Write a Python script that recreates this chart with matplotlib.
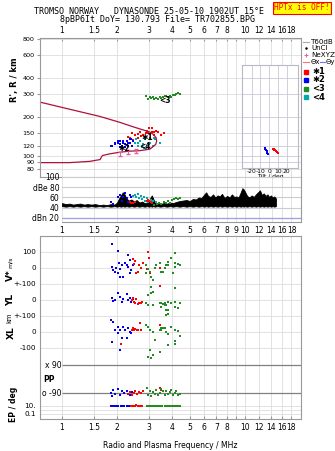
import numpy as np
import matplotlib
matplotlib.use("Agg")
import matplotlib.pyplot as plt
from matplotlib.ticker import FixedLocator, NullLocator, FixedFormatter
from matplotlib.transforms import blended_transform_factory

plt.rcParams["font.family"] = ["DejaVu Sans"]
plt.rcParams["font.size"] = 5.5

W, H = 335, 451

# ---- axes ticks ----
freq_ticks = [1, 1.5, 2, 3, 4, 5, 6, 7, 8, 9, 10, 12, 14, 16, 18]
freq_labels = ["1", "1.5", "2", "3", "4", "5", "6", "7", "8", "", "10", "12", "14", "16", "18"]
freq_labels_mid = ["1", "1.5", "2", "3", "4", "5", "6", "7", "8", "9", "10", "12", "14", "16", "18"]
range_ticks = [80, 90, 100, 120, 150, 200, 300, 400, 600, 800]
db_ticks = [20, 40, 60, 80, 100]
db_labels = ["dBn 20", "40", "60", "dBe 80", "100"]
tilt_ticks = [-20, -10, 0, 10, 20]

# ---- virtual height profile (crimson curve) ----
prof_f = [0.76, 1.0, 1.3, 1.61, 2.07, 2.45, 2.78, 3.03, 3.18, 3.28, 3.30, 3.26, 3.15,
          3.03, 2.67, 2.35, 2.07, 1.83, 1.67, 1.65, 1.62, 1.42, 1.1, 0.76]
prof_R = [260, 237, 217, 202, 182, 168, 159, 153, 146, 138, 130, 123, 118,
          113, 110, 109, 107, 104, 101, 99, 94, 91, 89, 89]

# NeXYZ points
ne_f = [2.07, 2.30, 2.55]
ne_R = [104, 107, 110]

# ---- echoes: range panel ----
f1 = [2.29, 2.35, 2.41, 2.45, 2.51, 2.60, 2.62, 2.67, 2.70, 2.77, 2.84, 2.87, 2.91,
      2.95, 2.99, 3.03, 3.03, 3.10, 3.12, 3.18, 3.20, 3.26, 3.35, 3.47, 3.60]
R1 = [141, 137, 151, 134, 146, 149, 138, 154, 143, 146, 141, 151, 157,
      150, 163, 149, 138, 154, 163, 146, 152, 157, 154, 146, 150]
f2 = [1.85, 1.87, 1.95, 1.95, 2.02, 2.03, 2.07, 2.07, 2.09, 2.12, 2.15, 2.15,
      2.21, 2.21, 2.26, 2.26, 2.29, 2.29, 2.35, 2.35, 2.40, 2.41, 2.44]
R2 = [120, 120, 127, 124, 131, 127, 124, 131, 118, 120, 131, 127,
      117, 124, 122, 131, 127, 120, 136, 127, 136, 120, 131]
f3 = [2.90, 2.95, 3.03, 3.09, 3.14, 3.20, 3.29, 3.35, 3.43, 3.50, 3.57, 3.65,
      3.73, 3.79, 3.89, 3.97, 4.04, 4.14, 4.23, 4.30, 4.42]
R3 = [292, 276, 287, 280, 283, 277, 280, 274, 283, 278, 287, 290,
      292, 285, 292, 283, 296, 296, 300, 303, 300]
f4 = [2.51, 2.56, 2.60, 2.67, 2.73, 2.77, 2.84, 2.90, 2.95, 3.03, 3.14, 3.18,
      3.22, 3.43, 2.62, 2.80, 2.98]
R4 = [127, 136, 120, 131, 118, 124, 136, 114, 120, 127, 120, 138,
      136, 127, 127, 116, 124]

# cluster labels (freq, range)
lab_text = ["\u27311", "\u27312", "<3", "<4"]
lab_f = [2.95, 2.20, 3.65, 2.85]
lab_R = [140, 115, 270, 119]

# tilt inset
tilt_b = [-5, -4.5, -3.5, -3, -2, -1.5]
tiltR_b = [116, 113, 112, 109, 106, 104]
tilt_r = [4, 5, 6, 7, 8, 9, 10]
tiltR_r = [114, 113, 112, 111, 109, 108, 106]

# ---- amplitude panel ----
noise_f = [1.00, 1.05, 1.10, 1.15, 1.20, 1.26, 1.32, 1.38, 1.45, 1.52, 1.60, 1.68, 1.76,
           1.85, 1.94, 2.00, 2.05, 2.10, 2.15, 2.20, 2.25, 2.32, 2.40, 2.48, 2.56, 2.65,
           2.74, 2.83, 2.92, 3.00, 3.05, 3.10, 3.15, 3.22, 3.32, 3.45, 3.60, 3.75, 3.90,
           4.05, 4.20, 4.40, 4.60, 4.80, 5.00, 5.20, 5.40, 5.60, 5.80, 6.00, 6.15, 6.30,
           6.50, 6.70, 6.90, 7.10, 7.30, 7.50, 7.75, 8.00, 8.25, 8.50, 8.75, 9.00, 9.25,
           9.50, 9.70, 9.85, 10.0, 10.3, 10.6, 10.9, 11.2, 11.5, 11.8, 12.1, 12.4, 12.7,
           13.0, 13.3, 13.6, 13.9, 14.2, 14.5, 14.8]
noise_hi = [49, 47, 48, 46, 47, 48, 46, 47, 46, 47, 45, 46, 45,
            47, 46, 50, 58, 64, 70, 66, 58, 54, 56, 52, 55, 50,
            52, 49, 50, 54, 60, 64, 58, 50, 48, 47, 49, 48, 50,
            49, 51, 53, 54, 55, 53, 57, 56, 60, 59, 66, 70, 63,
            61, 66, 60, 64, 62, 67, 59, 63, 60, 66, 61, 62, 60,
            70, 78, 76, 72, 63, 60, 64, 61, 66, 70, 74, 65, 68,
            63, 66, 61, 64, 60, 62, 58]
noise_lo = [43, 42, 43, 42, 43, 42, 43, 42, 43, 42, 43, 42, 43,
            42, 43, 42, 43, 42, 43, 42, 43, 42, 43, 42, 43, 42,
            43, 42, 43, 42, 43, 42, 43, 42, 43, 42, 43, 42, 43,
            42, 43, 42, 43, 42, 43, 42, 43, 42, 43, 42, 43, 42,
            43, 42, 43, 42, 43, 42, 43, 42, 43, 42, 43, 42, 43,
            42, 43, 42, 43, 42, 43, 42, 43, 42, 43, 42, 43, 42,
            43, 42, 43, 42, 43, 42, 43]

fdb1 = [2.35, 2.40, 2.45, 2.50, 2.90, 2.95, 3.00, 3.05, 3.10]
db1 = [52, 50, 49, 51, 54, 55, 53, 51, 50]
fdb2 = [1.85, 1.90, 2.02, 2.07, 2.12, 2.15, 2.21, 2.26, 2.29, 2.35, 2.40, 2.44]
db2 = [51, 48, 61, 64, 54, 60, 68, 58, 51, 64, 61, 62]
fdb3 = [3.20, 3.30, 3.40, 3.50, 3.60, 3.70, 3.80, 3.90, 4.00, 4.10, 4.20, 4.30, 4.40]
db3 = [46, 48, 50, 47, 52, 49, 53, 50, 55, 56, 58, 57, 58]
fdb4 = [2.45, 2.50, 2.55, 2.60, 2.65, 2.70, 2.75, 2.80, 2.85, 2.90, 2.95, 3.05, 3.15, 3.25]
db4 = [62, 64, 60, 66, 58, 62, 56, 60, 54, 58, 52, 55, 53, 51]

# ---- lower panel: Doppler V*, YL, XL, PP, EP ----
fv1 = [2.44, 2.47, 2.55, 2.60, 2.65, 2.70, 2.77, 2.52, 2.95, 3.00, 3.03, 2.92, 3.43]
v1 = [56, 25, -31, -25, 19, 0, 31, 45, 100, 62, -31, -6, 0]
fv2 = [1.87, 2.03, 1.87, 1.91, 1.95, 2.03, 2.07, 2.16, 2.12, 2.21, 2.30, 2.26, 2.30,
       2.35, 2.40, 2.45, 2.35, 2.06, 1.99, 2.09]
v2 = [150, 106, 6, -12, -25, -31, -56, -56, 19, 31, 81, 19, 6, 50, -12, 19, -31, 31, 0, -6]
fv3 = [2.90, 2.96, 3.02, 2.90, 3.09, 3.15, 3.22, 3.29, 3.43, 3.50, 3.65, 3.73, 3.81,
       3.58, 3.97, 4.14, 4.14, 4.32, 4.45, 4.06, 3.81, 4.14]
v3 = [19, -8, -23, -33, -54, -75, -2, 19, 29, -23, -2, 19, 40, -23, 60, 96, 29, 25, 19,
      -29, 19, 8]

fyl1 = [2.41, 2.44, 2.47, 2.52, 2.55, 2.60, 2.65, 2.70, 2.74, 3.43]
yl1 = [0, 12, -10, -17, 5, -25, -19, -20, -12, 89]
fyl2 = [1.87, 1.91, 1.95, 2.03, 2.07, 2.12, 2.16, 2.26, 2.30, 2.35, 2.40, 2.45]
yl2 = [10, -6, 2, 42, 21, -10, 8, 37, 0, 15, -10, 4]
fyl3 = [2.96, 3.09, 3.15, 2.90, 2.96, 3.15, 3.43, 3.58, 3.73, 3.73, 3.73, 3.09, 3.50,
        3.65, 3.81, 3.97, 4.14, 4.45, 4.14, 4.32, 3.81, 3.81, 4.14, 3.50, 3.65]
yl3 = [31, 42, 52, -21, -31, -31, -21, -25, -31, -62, -94, 83, -17, -21, -15, -21, -10,
       -21, -42, -52, -62, -87, 77, -42, -31]

fxl1 = [2.10, 2.41, 2.44, 2.47, 2.52, 2.58, 2.62, 2.67, 2.72, 3.43]
xl1 = [-75, 12, 25, 10, 18, 12, 15, 58, 12, 44]
fxl2 = [1.85, 1.91, 2.03, 2.07, 2.03, 1.87, 2.07, 2.12, 2.26, 2.35, 2.30, 2.21, 2.40,
        2.16, 1.95]
xl2 = [75, 65, 29, 12, -8, -61, -112, -40, -40, 2, 23, 12, -8, 29, 12]
fxl3 = [2.90, 2.96, 3.02, 3.15, 3.22, 3.02, 3.15, 3.09, 2.96, 3.43, 3.58, 3.73, 3.50,
        3.65, 3.97, 4.14, 4.32, 4.45, 4.14, 4.14, 3.81, 3.81, 3.43, 3.50]
xl3 = [44, 29, 12, 2, -50, -112, -144, -165, -154, 12, 23, 2, 23, 23, 33, 12, 8, -25,
       -54, -75, -12, -81, -123, 12]

fpp1 = [2.29, 2.35, 2.41, 2.47, 2.52, 2.58, 2.65, 2.70, 2.77, 3.43, 3.50]
pp1 = [-95, -85, -100, -90, -80, -95, -85, -90, -75, -60, -70]
fpp2 = [1.85, 1.88, 1.91, 1.95, 2.03, 2.07, 2.12, 2.20, 2.26, 2.35, 2.42]
pp2 = [-90, -110, -70, -95, -65, -100, -80, -90, -75, -100, -85]
fpp3 = [2.92, 2.96, 3.02, 3.09, 3.15, 3.22, 3.29, 3.36, 3.43, 3.50, 3.58, 3.65, 3.73,
        3.81, 3.90, 3.97, 4.06, 4.14, 4.23, 4.32, 4.45]
pp3 = [-60, -100, -75, -110, -85, -95, -70, -105, -90, -65, -80, -100, -75, -95, -85,
       -70, -100, -90, -80, -105, -95]

fep1 = [2.38, 2.44, 2.50, 2.55, 2.60, 2.65, 2.70, 2.75]
ep1 = [8, 12, 10, 14, 9, 11, 13, 10]
fep2 = [1.85, 1.88, 1.92, 1.97, 2.03, 2.10, 2.15, 2.20, 2.28, 2.33, 2.40]
ep2 = [10, 12, 9, 11, 10, 13, 10, 8, 11, 12, 9]
fep3 = [2.92, 2.98, 3.05, 3.12, 3.20, 3.28, 3.36, 3.45, 3.55, 3.65, 3.75, 3.85, 3.95,
        4.05, 4.15, 4.25, 4.35, 4.45]
ep3 = [10, 12, 9, 11, 10, 13, 10, 9, 11, 12, 10, 9, 11, 10, 12, 10, 9, 11]

RED, BLUE, GREEN, CYAN = "#ff0000", "#0000ee", "#228b22", "#00aaaa"
PROFILE, PINK = "#b0103c", "#e0609a"
GRID, FRAME = "#dddddd", "#999999"
MS = 3.2


def px_box(x0, y0, x1, y1):
    return [x0 / W, 1 - y1 / H, (x1 - x0) / W, (y1 - y0) / H]


def freq_axis(a, labels):
    a.set_xscale("log")
    a.xaxis.set_major_locator(FixedLocator(freq_ticks))
    a.xaxis.set_major_formatter(FixedFormatter(labels))
    a.xaxis.set_minor_locator(NullLocator())
    a.tick_params(axis="x", which="both", length=2, direction="in", color=FRAME, pad=2)
    for s in a.spines.values():
        s.set_color(FRAME)
        s.set_linewidth(0.8)


fig = plt.figure(figsize=(W / 100, H / 100), dpi=100)

# ---------- range panel ----------
ax = fig.add_axes(px_box(40, 38, 301, 177))
freq_axis(ax, freq_labels)
ax.set_xlim(0.76, 20.3)
ax.set_yscale("log")
ax.set_ylim(69, 810)
ax.yaxis.set_major_locator(FixedLocator(range_ticks))
ax.yaxis.set_major_formatter(FixedFormatter([str(t) for t in range_ticks]))
ax.yaxis.set_minor_locator(NullLocator())
ax.tick_params(axis="y", length=2, direction="out", color=FRAME, pad=2, labelsize=4.6)
ax.tick_params(axis="x", top=True, bottom=False, labeltop=True, labelbottom=False)
ax.grid(True, color=GRID, lw=0.6)
ax.set_axisbelow(True)

ax.plot(prof_f, prof_R, color=PROFILE, lw=0.9)
ax.errorbar(ne_f, ne_R, yerr=4, fmt="none", ecolor=PINK, elinewidth=0.7, capsize=1.5)
ax.scatter(f3, R3, s=MS, marker="s", color=GREEN, lw=0)
ax.scatter(f1, R1, s=MS, marker="s", color=RED, lw=0)
ax.scatter(f2, R2, s=MS, marker="s", color=BLUE, lw=0)
ax.scatter(f4, R4, s=MS, marker="s", color=CYAN, lw=0)
for t, xf, yr in zip(lab_text, lab_f, lab_R):
    ax.text(xf, yr, t, fontsize=5.5, fontweight="bold", color="black",
            ha="center", va="center")
fig.text(14 / W, 1 - 80 / H, "R', R / km", rotation=90, ha="center", va="center",
         fontsize=6, fontweight="bold")

# ---------- tilt inset ----------
fig.canvas.draw()
inv = ax.transData.inverted()
r_top = inv.transform((100, H - 65))[1]
r_bot = inv.transform((100, H - 168))[1]
axt = fig.add_axes(px_box(242, 65, 298, 168))
axt.set_facecolor("white")
axt.set_yscale("log")
axt.set_ylim(r_bot, r_top)
axt.set_xlim(-31, 33)
axt.yaxis.set_major_locator(FixedLocator(range_ticks))
axt.yaxis.set_minor_locator(NullLocator())
axt.set_yticklabels([])
axt.xaxis.set_major_locator(FixedLocator(tilt_ticks))
axt.set_xticklabels([str(t) for t in tilt_ticks], fontsize=4.3)
axt.tick_params(length=0, pad=1)
axt.grid(True, color="#c8c8d8", lw=0.6)
axt.set_axisbelow(True)
for s in axt.spines.values():
    s.set_color("#b8b8c8")
    s.set_linewidth(0.8)
axt.set_xlabel("Tilt / deg", fontsize=4.3, labelpad=0)
axt.scatter(tilt_b, tiltR_b, s=2.5, marker="s", color=BLUE, lw=0)
axt.scatter(tilt_r, tiltR_r, s=2.5, marker="s", color=RED, lw=0)

# ---------- legend on the right ----------
lx0, lx1, tx = 303 / W, 309 / W, 311 / W
leg_rows = [(42, "T60dB"), (48, "UnCl"), (55, "NeXYZ")]
fig.add_artist(plt.Line2D([lx0, lx1], [1 - 42 / H] * 2, color="#aaaaaa", lw=0.8))
fig.add_artist(plt.Line2D([306 / W], [1 - 48 / H], marker="o", ms=0.8, color="black", lw=0))
fig.add_artist(plt.Line2D([306 / W], [1 - 55 / H], marker="+", ms=3.5, mew=0.7,
                          color=PINK, lw=0))
for yy, txt in leg_rows:
    fig.text(tx, 1 - yy / H, txt, ha="left", va="center", fontsize=5.1)
fig.add_artist(plt.Line2D([lx0, lx1], [1 - 62 / H] * 2, color="#ff7070", lw=0.8))
fig.text(tx, 1 - 62 / H, "\u0398x", ha="left", va="center", fontsize=5)
fig.add_artist(plt.Line2D([320 / W, 325 / W], [1 - 62 / H] * 2, color="#7070ff", lw=0.8))
fig.text(326 / W, 1 - 62 / H, "\u0398y", ha="left", va="center", fontsize=5)
for yy, col, txt in [(72, RED, "\u27311"), (80, BLUE, "\u27312"),
                     (89, GREEN, "<3"), (97, CYAN, "<4")]:
    fig.add_artist(plt.Line2D([306 / W], [1 - yy / H], marker="s", ms=2.3, color=col,
                              lw=0))
    fig.text(tx + 1 / W, 1 - yy / H, txt, ha="left", va="center", fontsize=6,
             fontweight="bold")

# ---------- amplitude panel ----------
axd = fig.add_axes(px_box(62, 177, 301, 222))
freq_axis(axd, freq_labels_mid)
axd.set_xlim(1.0, 20.3)
axd.set_ylim(12, 100)
axd.yaxis.set_major_locator(FixedLocator(db_ticks))
axd.yaxis.set_major_formatter(FixedFormatter(db_labels))
axd.tick_params(axis="y", length=0, pad=2)
axd.tick_params(axis="x", length=0, pad=3)
axd.spines["left"].set_visible(False)
axd.spines["top"].set_visible(False)
axd.grid(True, axis="y", color="#cccccc", lw=0.8)
axd.grid(True, axis="x", color=GRID, lw=0.6)
axd.axhline(20, color="#a0a0e8", lw=0.9)
axd.set_axisbelow(True)
axd.fill_between(noise_f, noise_lo, noise_hi, color="black", lw=0.6, edgecolor="black")
axd.scatter(fdb2, db2, s=MS, marker="s", color=BLUE, lw=0, zorder=3)
axd.scatter(fdb4, db4, s=MS, marker="s", color=CYAN, lw=0, zorder=3)
axd.scatter(fdb1, db1, s=MS, marker="s", color=RED, lw=0, zorder=3)
axd.scatter(fdb3, db3, s=MS, marker="s", color=GREEN, lw=0, zorder=3)

# ---------- lower panel (rows in pixel units) ----------
V_ROW, YL_ROW, XL_ROW = 268, 300, 332
KM = 0.16
X90_ROW, O90_ROW, EP_ROW = 365, 393, 406


def band(vals, row):
    return [row - v * KM for v in vals]


def pp_y(vals):
    return [O90_ROW - (p + 90) / 180 * (O90_ROW - X90_ROW) for p in vals]


def ep_y(vals):
    return [EP_ROW + 4 * (1 - np.log10(e)) for e in vals]


axl = fig.add_axes(px_box(40, 236, 301, 419))
freq_axis(axl, freq_labels)
axl.set_xlim(0.76, 20.3)
axl.set_ylim(419, 236)
low_ticks = [252, 268, 284, 300, 316, 332, 348, 406, 410, 414]
low_labels = ["100", "0", "+-100", "0", "+-100", "0", "-100", "10.", "", "0.1"]
axl.yaxis.set_major_locator(FixedLocator(low_ticks))
axl.yaxis.set_major_formatter(FixedFormatter(low_labels))
axl.tick_params(axis="y", length=0, pad=3, labelsize=5.2)
axl.tick_params(axis="x", length=2, pad=3)
axl.grid(True, color=GRID, lw=0.6)
axl.set_axisbelow(True)
axl.hlines([X90_ROW, O90_ROW], 1.0, 20.3, color="#808080", lw=0.9)
bt = blended_transform_factory(axl.transAxes, axl.transData)
axl.text(0.082, X90_ROW, "x 90", transform=bt, ha="right", va="center", fontsize=5.5)
axl.text(0.082, O90_ROW, "o -90", transform=bt, ha="right", va="center", fontsize=5.5)
axl.text(0.012, 380, "PP", transform=bt, ha="left", va="center", fontsize=5.5,
         fontweight="bold")

for fx, vals, col in [(fv2, v2, BLUE), (fv1, v1, RED), (fv3, v3, GREEN)]:
    axl.scatter(fx, band(vals, V_ROW), s=MS, marker="s", color=col, lw=0)
for fx, vals, col in [(fyl2, yl2, BLUE), (fyl1, yl1, RED), (fyl3, yl3, GREEN)]:
    axl.scatter(fx, band(vals, YL_ROW), s=MS, marker="s", color=col, lw=0)
for fx, vals, col in [(fxl2, xl2, BLUE), (fxl1, xl1, RED), (fxl3, xl3, GREEN)]:
    axl.scatter(fx, band(vals, XL_ROW), s=MS, marker="s", color=col, lw=0)
for fx, vals, col in [(fpp2, pp2, BLUE), (fpp1, pp1, RED), (fpp3, pp3, GREEN)]:
    axl.scatter(fx, pp_y(vals), s=MS, marker="s", color=col, lw=0, zorder=3)
for fx, vals, col in [(fep2, ep2, BLUE), (fep1, ep1, RED), (fep3, ep3, GREEN)]:
    axl.scatter(fx, ep_y(vals), s=MS, marker="s", color=col, lw=0, zorder=3)

axl.set_xlabel("Radio and Plasma Frequency / MHz", fontsize=5.5, labelpad=6)

# left row labels
fig.text(10 / W, 1 - 275 / H, "V*", rotation=90, ha="center", va="center",
         fontsize=6.5, fontweight="bold")
fig.text(10 / W, 1 - 262 / H, "m/s", rotation=90, ha="center", va="center", fontsize=4.5)
fig.text(11 / W, 1 - 300 / H, "YL", rotation=90, ha="center", va="center",
         fontsize=6.5, fontweight="bold")
fig.text(9 / W, 1 - 318 / H, "km", rotation=90, ha="center", va="center", fontsize=4.8)
fig.text(11 / W, 1 - 333 / H, "XL", rotation=90, ha="center", va="center",
         fontsize=6.5, fontweight="bold")
fig.text(14 / W, 1 - 404 / H, "EP / deg", rotation=90, ha="center", va="center",
         fontsize=5.5, fontweight="bold")

# ---------- header ----------
fig.text(149 / W, 1 - 12 / H, "TROMSO NORWAY   DYNASONDE 25-05-10 1902UT 15\u00b0E",
         family="DejaVu Sans Mono", fontsize=6, ha="center", va="center")
fig.text(157 / W, 1 - 20 / H, "8pBP6It DoY= 130.793 File= TR702855.BPG",
         family="DejaVu Sans Mono", fontsize=6, ha="center", va="center")
fig.text(302 / W, 1 - 8 / H, "HPTx is OFF!", family="DejaVu Sans Mono", fontsize=5.6,
         color="#ff0000", ha="center", va="center",
         bbox=dict(boxstyle="square,pad=0.2", fc="#ffff00", ec="#ff0000", lw=0.8))

fig.savefig("out.png", dpi=100)
